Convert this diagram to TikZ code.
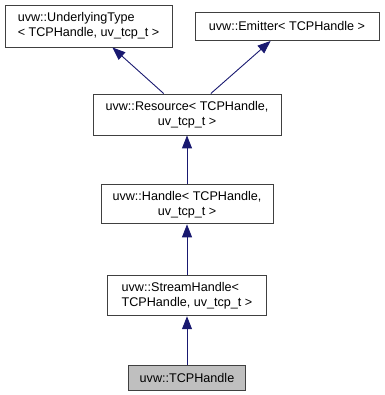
\documentclass[tikz,border=0pt]{standalone}
\usepackage{fontspec}
\setmainfont{Liberation Sans}
\usetikzlibrary{positioning}
\usetikzlibrary{arrows.meta}

\definecolor{inhblue}{RGB}{25,25,112}
\definecolor{boxline}{RGB}{64,64,64}

\begin{document}
\begin{tikzpicture}[x=1pt,y=1pt,
  cls/.style={draw=boxline,line width=0.9pt,fill=white,inner sep=2pt,
    font=\fontsize{12.6}{15}\selectfont},
  inherit/.style={draw=inhblue,line width=0.9pt,-{Triangle[length=13pt,width=10pt]}}]
\useasboundingbox (0,0) rectangle (384,395);
\node[cls,align=left,minimum width=167pt,minimum height=42pt](under) at (88.5,369)
  {uvw::UnderlyingType\\< TCPHandle, uv\_tcp\_t >};
\node[cls,minimum width=184pt,minimum height=28pt](emit) at (287,368.5)
  {uvw::Emitter< TCPHandle >};
\node[cls,align=center,minimum width=188pt,minimum height=41pt](res) at (187,280.5)
  {uvw::Resource< TCPHandle,\\uv\_tcp\_t >};
\node[cls,align=center,minimum width=172pt,minimum height=39pt, below = 49pt of res](hdl)
  {uvw::Handle< TCPHandle,\\uv\_tcp\_t >};
\node[cls,align=left,minimum width=159pt,minimum height=40pt, below = 51pt of hdl](strm)
  {uvw::StreamHandle<\\ TCPHandle, uv\_tcp\_t >};
\node[cls,fill={rgb,255:red,191;green,191;blue,191},minimum width=117pt,minimum height=25pt, below = 49pt of strm](tcp)
  {uvw::TCPHandle};
\path (res) edge[inherit] (under);
\path (res) edge[inherit] (emit);
\path (hdl) edge[inherit] (res);
\path (strm) edge[inherit] (hdl);
\path (tcp) edge[inherit] (strm);
\end{tikzpicture}
\end{document}
